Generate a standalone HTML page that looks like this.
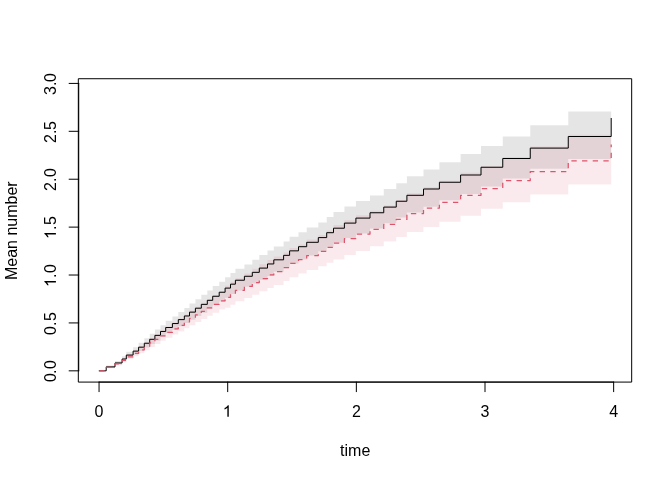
<!DOCTYPE html>
<html><head><meta charset="utf-8"><title>plot</title>
<style>
html,body{margin:0;padding:0;background:#fff;}
body{width:672px;height:480px;overflow:hidden;font-family:"Liberation Sans",sans-serif;}
svg{display:block;will-change:transform;}
</style></head><body>
<svg width="672" height="480" viewBox="0 0 672 480">
<rect width="672" height="480" fill="#fff"/>
<path d="M99.2 370.84H106.2V365.6H115V360.96H122.1V356.32H126.3V351.78H133.1V347.24H138.6V342.7H144.3V338.26H149.7V333.82H154.9V329.48H160.5V325.14H165.7V320.8H172.4V316.41H178.3V312.02H184.35V307.88H189.5V303.54H195.4V299.2H201.3V294.86H207.3V290.42H212.7V285.98H219.2V281.74H225.1V277.2H230.5V272.96H235.4V268.72H244.4V264.38H252.3V259.84H259.3V255.1H267.5V250.46H273.8V246.52H283.6V241.55H289.6V236.75H298.5V232.3H306.7V227.5H318.3V222.4H326.7V217H333.5V212H344.4V206.5H355.9V201H370V195.4H383.75V189.1H396.25V183.15H406.9V176.3H423.5V169.4H439.4V162.25H460.6V154.1H481V146.1H502.75V136.5H530.25V125.25H568.25V111.5H611.2V159.09H568.25V168.82H530.25V178.43H502.75V186.41H481V193.88H460.6V200.33H439.4V206.69H423.5V212.44H406.9V217.6H396.25V223.32H383.75V228.38H370V233.48H355.9V238.02H344.4V242.75H333.5V246.8H326.7V251.24H318.3V255.57H306.7V259.6H298.5V263.47H289.6V267.68H283.6V271.7H273.8V275.95H267.5V279.64H259.3V283.43H252.3V286.85H244.4V290.42H235.4V294.08H230.5V297.73H225.1V301.5H219.2V305.33H212.7V309H207.3V312.67H201.3V316.07H195.4V319.64H189.5V323.04H184.35V326.24H178.3V329.77H172.4V333.3H165.7V336.87H160.5V340.44H154.9V344H149.7V347.49H144.3V350.98H138.6V354.4H133.1V357.81H126.3V361.22H122.1V364.56H115V367.88H106.2V370.84H99.2Z" fill="#000" fill-opacity="0.1"/>
<path d="M99.2 370.84H106.2V366.24H115V362.11H122.1V357.99H126.3V353.96H133.1V349.92H138.6V345.89H144.3V341.93H149.7V337.98H154.9V334.11H160.5V330.25H165.7V326.38H172.4V322.47H178.3V318.56H184.35V314.57H189.5V310.61H195.4V306.75H201.3V302.78H207.3V298.93H212.7V295.08H219.2V291.39H225.1V285.65H230.5V281.72H235.4V278.28H244.4V273.41H252.3V268.83H259.3V264.16H267.5V260.12H273.8V256.41H283.6V252.48H289.6V247.95H298.5V244.56H306.7V239.56H318.3V234.97H326.7V230.48H333.5V225.01H344.4V220.24H355.9V215.19H370V210.78H383.75V205.48H396.25V199.94H406.9V193.27H423.5V187.22H439.4V180.72H460.6V172.84H481V166.29H502.75V156.93H530.25V146.57H568.25V134.72H611.2V184.6H568.25V194.6H530.25V202.2H502.75V208.8H481V215.65H460.6V221.85H439.4V227.1H423.5V231.9H406.9V237.1H396.25V241.6H383.75V246.3H370V251H355.9V255H344.4V259.4H333.5V262.7H326.7V266.25H318.3V269.9H306.7V273.4H298.5V277.3H289.6V281H283.6V285H273.8V288.1H267.5V291.3H259.3V294.7H252.3V298H244.4V301.14H235.4V304.64H230.5V307.74H225.1V309.4H219.2V312.7H212.7V315.87H207.3V319.04H201.3V322.12H195.4V325.28H189.5V328.36H184.35V331.42H178.3V334.54H172.4V337.66H165.7V340.82H160.5V343.97H154.9V347.12H149.7V350.2H144.3V353.29H138.6V356.3H133.1V359.32H126.3V362.34H122.1V365.28H115V368.22H106.2V370.84H99.2Z" fill="#DF536B" fill-opacity="0.12"/>
<path d="M99.2 370.84H106.2V366.9H115V362.96H122.1V359.02H126.3V355.08H133.1V351.14H138.6V347.2H144.3V343.26H149.7V339.32H154.9V335.38H160.5V331.44H165.7V327.5H172.4V323.56H178.3V319.62H184.35V315.98H189.5V312.14H195.4V308.2H201.3V304.36H207.3V300.32H212.7V296.28H219.2V292.24H225.1V288.1H230.5V284.16H235.4V280.22H244.4V276.28H252.3V272.34H259.3V268.1H267.5V263.96H273.8V259.82H283.6V255.35H289.6V250.85H298.5V246.7H306.7V242.3H318.3V237.6H326.7V232.7H333.5V228.2H344.4V223.1H355.9V218.1H370V212.75H383.75V207.1H396.25V201.25H406.9V195.3H423.5V189H439.4V182.25H460.6V175H481V167.25H502.75V158.5H530.25V148.1H568.25V136.5H611.2V118.4" fill="none" stroke="#000" stroke-width="1.0" stroke-linejoin="round" stroke-linecap="round"/>
<path d="M99.2 370.84H106.2V367.34H115V363.84H122.1V360.34H126.3V356.84H133.1V353.34H138.6V349.84H144.3V346.34H149.7V342.84H154.9V339.34H160.5V335.84H165.7V332.34H172.4V328.84H178.3V325.34H184.35V321.84H189.5V318.34H195.4V314.84H201.3V311.34H207.3V307.84H212.7V304.34H219.2V300.84H225.1V297.34H230.5V293.84H235.4V290.34H244.4V286.4H252.3V282.5H259.3V278.5H267.5V274.9H273.8V271.5H283.6V267.5H289.6V263.4H298.5V259.7H306.7V255.5H318.3V251.4H326.7V247.4H333.5V243.1H344.4V238.5H355.9V234H370V229.4H383.75V224.4H396.25V219.4H406.9V213.5H423.5V208.1H439.4V202.25H460.6V195.25H481V188.5H502.75V180.6H530.25V171.7H568.25V160.8H611.2V144.4" fill="none" stroke="#DF536B" stroke-width="1.25" stroke-dasharray="5.33 5.33" stroke-linejoin="round" stroke-linecap="butt"/>
<g fill="none" stroke="#000" stroke-width="1.0" stroke-linejoin="round" stroke-linecap="round">
<rect x="78.72" y="78.72" width="552.96" height="303.36"/>
<path d="M99.05 382.08H613.65M99.05 382.08v9.6M227.7 382.08v9.6M356.35 382.08v9.6M485 382.08v9.6M613.65 382.08v9.6M78.72 370.84V83.41M78.72 370.84h-9.6M78.72 322.93h-9.6M78.72 275.03h-9.6M78.72 227.12h-9.6M78.72 179.22h-9.6M78.72 131.31h-9.6M78.72 83.41h-9.6"/>
</g>
<g font-family="Liberation Sans, sans-serif" font-size="16" fill="#000" text-anchor="middle">
<text x="99.05" y="416.7">0</text>
<path transform="translate(222.8 416.7) scale(0.0078125 -0.0078125)" d="M763 0H583V1147Q518 1085 412.5 1023T223 930V1104Q373 1174.5 485.5 1275T645 1470H763Z"/>
<text x="356.35" y="416.7">2</text>
<text x="485" y="416.7">3</text>
<text x="613.65" y="416.7">4</text>
<text x="355.2" y="455.7">time</text>
<text transform="translate(56.2 382) rotate(-90)" text-anchor="start">0</text>
<text transform="translate(56.2 374) rotate(-90)" text-anchor="start">.</text>
<text transform="translate(56.2 369) rotate(-90)" text-anchor="start">0</text>
<text transform="translate(56.2 335) rotate(-90)" text-anchor="start">0</text>
<text transform="translate(56.2 326) rotate(-90)" text-anchor="start">.</text>
<text transform="translate(56.2 321) rotate(-90)" text-anchor="start">5</text>
<path transform="translate(55.900000000000006 287) rotate(-90) scale(0.0078125 -0.0078125)" d="M763 0H583V1147Q518 1085 412.5 1023T223 930V1104Q373 1174.5 485.5 1275T645 1470H763Z"/>
<text transform="translate(56.2 278) rotate(-90)" text-anchor="start">.</text>
<text transform="translate(56.2 273) rotate(-90)" text-anchor="start">0</text>
<path transform="translate(55.900000000000006 239) rotate(-90) scale(0.0078125 -0.0078125)" d="M763 0H583V1147Q518 1085 412.5 1023T223 930V1104Q373 1174.5 485.5 1275T645 1470H763Z"/>
<text transform="translate(56.2 230) rotate(-90)" text-anchor="start">.</text>
<text transform="translate(56.2 225) rotate(-90)" text-anchor="start">5</text>
<text transform="translate(56.2 191) rotate(-90)" text-anchor="start">2</text>
<text transform="translate(56.2 182) rotate(-90)" text-anchor="start">.</text>
<text transform="translate(56.2 177) rotate(-90)" text-anchor="start">0</text>
<text transform="translate(56.2 143) rotate(-90)" text-anchor="start">2</text>
<text transform="translate(56.2 134) rotate(-90)" text-anchor="start">.</text>
<text transform="translate(56.2 130) rotate(-90)" text-anchor="start">5</text>
<text transform="translate(56.2 95) rotate(-90)" text-anchor="start">3</text>
<text transform="translate(56.2 86) rotate(-90)" text-anchor="start">.</text>
<text transform="translate(56.2 82) rotate(-90)" text-anchor="start">0</text>
<text transform="translate(16.8 230.7) rotate(-90)">Mean number</text>
</g>
</svg>
</body></html>
